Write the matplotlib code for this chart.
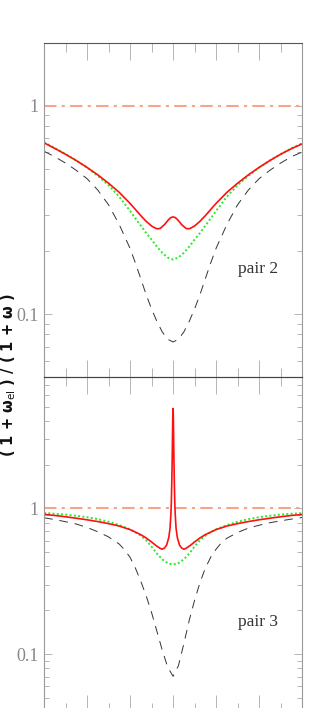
import numpy as np
import matplotlib
matplotlib.use('Agg')
import matplotlib.pyplot as plt
from matplotlib.ticker import FixedLocator, MultipleLocator, NullFormatter, FixedFormatter

# ---- data ----
# pair 2 (upper panel)
x2 = [-3.0, -2.75, -2.5, -2.25, -2.0, -1.75, -1.5, -1.25, -1.0, -0.875, -0.75, -0.625,
      -0.5, -0.375, -0.25, -0.125, 0.0, 0.125, 0.25, 0.375, 0.5, 0.625, 0.75, 0.875,
      1.0, 1.25, 1.5, 1.75, 2.0, 2.25, 2.5, 2.75, 3.0]
dashed2 = [0.605, 0.569, 0.531, 0.490, 0.447, 0.394, 0.335, 0.269, 0.207, 0.176, 0.148,
           0.124, 0.106, 0.0923, 0.0822, 0.0759, 0.0736, 0.0759, 0.0822, 0.0923, 0.106,
           0.124, 0.148, 0.176, 0.207, 0.269, 0.335, 0.394, 0.447, 0.490, 0.531, 0.569,
           0.600]
green2 = [0.668, 0.627, 0.586, 0.546, 0.505, 0.461, 0.416, 0.366, 0.313, 0.288, 0.266,
          0.245, 0.228, 0.211, 0.197, 0.187, 0.183, 0.187, 0.197, 0.211, 0.228, 0.245,
          0.266, 0.288, 0.313, 0.366, 0.416, 0.461, 0.505, 0.546, 0.586, 0.625, 0.660]
xr2 = [-3.0, -2.75, -2.5, -2.25, -2.0, -1.75, -1.5, -1.25, -1.0, -0.875, -0.75, -0.625,
       -0.5, -0.4, -0.35, -0.3, -0.2, -0.1, -0.05, 0.0, 0.05, 0.1, 0.2, 0.3, 0.35, 0.4,
       0.5, 0.625, 0.75, 0.875, 1.0, 1.25, 1.5, 1.75, 2.0, 2.25, 2.5, 2.75, 3.0]
red2 = [0.664, 0.624, 0.585, 0.546, 0.506, 0.466, 0.425, 0.384, 0.340, 0.318, 0.297,
        0.279, 0.265, 0.258, 0.257, 0.258, 0.269, 0.285, 0.291, 0.293, 0.291, 0.285,
        0.269, 0.258, 0.257, 0.258, 0.265, 0.279, 0.297, 0.318, 0.340, 0.384, 0.425,
        0.466, 0.506, 0.546, 0.585, 0.622, 0.656]

# pair 3 (lower panel)
xd3 = [-3.0, -2.75, -2.5, -2.25, -2.0, -1.75, -1.5, -1.25, -1.125, -1.0, -0.875, -0.75,
       -0.625, -0.5, -0.375, -0.25, -0.125, 0.0, 0.125, 0.25, 0.375, 0.5, 0.625, 0.75,
       0.875, 1.0, 1.125, 1.25, 1.5, 1.75, 2.0, 2.25, 2.5, 2.75, 3.0]
dashed3 = [0.863, 0.839, 0.811, 0.782, 0.741, 0.692, 0.638, 0.569, 0.519, 0.462, 0.389,
           0.316, 0.251, 0.193, 0.143, 0.106, 0.0813, 0.0703, 0.0832, 0.1175, 0.170,
           0.234, 0.309, 0.389, 0.462, 0.525, 0.582, 0.624, 0.684, 0.733, 0.767, 0.798,
           0.822, 0.845, 0.867]
xg3 = [-3.0, -2.75, -2.5, -2.25, -2.0, -1.75, -1.5, -1.25, -1.0, -0.875, -0.75, -0.625,
       -0.5, -0.375, -0.25, -0.125, 0.0, 0.125, 0.25, 0.375, 0.5, 0.625, 0.75, 0.875,
       1.0, 1.25, 1.5, 1.75, 2.0, 2.25, 2.5, 2.75, 3.0]
green3 = [0.931, 0.920, 0.908, 0.891, 0.871, 0.845, 0.811, 0.769, 0.719, 0.687, 0.650,
          0.605, 0.547, 0.490, 0.447, 0.421, 0.412, 0.421, 0.447, 0.490, 0.547, 0.605,
          0.650, 0.687, 0.719, 0.769, 0.811, 0.845, 0.871, 0.891, 0.908, 0.920, 0.928]
xr3 = [-3.0, -2.75, -2.5, -2.25, -2.0, -1.75, -1.5, -1.25, -1.0, -0.75, -0.625, -0.5,
       -0.4, -0.3, -0.25, -0.2, -0.15, -0.1, -0.07, -0.05, -0.04, -0.03, -0.02, -0.015,
       -0.01, -0.005, 0.0, 0.005, 0.01, 0.015, 0.02, 0.03, 0.04, 0.05, 0.07, 0.1, 0.15,
       0.2, 0.25, 0.3, 0.4, 0.5, 0.625, 0.75, 1.0, 1.25, 1.5, 1.75, 2.0, 2.25, 2.5, 2.75,
       3.0]
red3 = [0.912, 0.895, 0.877, 0.857, 0.836, 0.813, 0.787, 0.757, 0.716, 0.661, 0.627,
        0.589, 0.557, 0.532, 0.525, 0.535, 0.56, 0.63, 0.73, 0.92, 1.1, 1.5, 2.2, 2.82,
        3.63, 4.45, 4.86, 4.45, 3.63, 2.82, 2.2, 1.5, 1.1, 0.92, 0.73, 0.63, 0.56, 0.535,
        0.525, 0.532, 0.557, 0.589, 0.627, 0.661, 0.716, 0.757, 0.787, 0.813, 0.836,
        0.857, 0.877, 0.895, 0.910]

unity_x = [-3.0, 3.0]
unity = [1.0, 1.0]

panels = [
    dict(xd=x2, dashed=dashed2, xg=x2, green=green2, xr=xr2, red=red2, label='pair 2',
         ylim=(0.05, 2.0), lab_xy=(1.52, 0.164)),
    dict(xd=xd3, dashed=dashed3, xg=xg3, green=green3, xr=xr3, red=red3, label='pair 3',
         ylim=(0.04, 8.0), lab_xy=(1.52, 0.166)),
]
ytick_vals = [0.1, 1.0]
ytick_labels = ['0.1', '1']

tick_col = '#aaaaaa'

fig = plt.figure(figsize=(3.19, 7.08), dpi=100)
ax1 = fig.add_axes([0.138, 0.4675, 0.809, 0.4718])
ax2 = fig.add_axes([0.138, -0.0056, 0.809, 0.4731])

for ax, p in zip([ax1, ax2], panels):
    ax.plot(unity_x, unity, color='#f7a58a', lw=1.5, dashes=(6, 2.5, 1.5, 2.5))
    ax.plot(p['xd'], p['dashed'], color='#333333', lw=0.7, dashes=(9, 7))
    ax.plot(p['xg'], p['green'], color='#22ee22', lw=1.4, linestyle=(0, (1, 1.2)))
    ax.plot(p['xr'], p['red'], color='#ff1010', lw=1.2)
    ax.set_yscale('log')
    ax.set_xlim(-3, 3)
    ax.set_ylim(*p['ylim'])
    ax.xaxis.set_major_locator(MultipleLocator(1))
    ax.xaxis.set_minor_locator(MultipleLocator(0.5))
    ax.xaxis.set_major_formatter(NullFormatter())
    ax.yaxis.set_major_locator(FixedLocator(ytick_vals))
    ax.yaxis.set_major_formatter(FixedFormatter(ytick_labels))
    ax.yaxis.set_minor_locator(FixedLocator([k * 10.0 ** e for e in (-2, -1, 0)
                                             for k in range(2, 10)]))
    ax.yaxis.set_minor_formatter(NullFormatter())
    ax.tick_params(axis='x', which='major', direction='in', top=True, bottom=True,
                   length=12.5, width=0.6, color=tick_col)
    ax.tick_params(axis='x', which='minor', direction='in', top=True, bottom=True,
                   length=6.5, width=0.6, color=tick_col)
    ax.tick_params(axis='y', which='major', direction='in', left=True, right=True,
                   length=5.5, width=0.6, color=tick_col, pad=4, labelcolor='#888888',
                   labelsize=13)
    ax.tick_params(axis='y', which='minor', direction='in', left=True, right=True,
                   length=3.5, width=0.6, color=tick_col)
    for lab in ax.get_yticklabels():
        lab.set_fontfamily('Liberation Serif')
    for side in ['left', 'right']:
        ax.spines[side].set_color('#999999')
        ax.spines[side].set_linewidth(0.8)
    ax.text(p['lab_xy'][0], p['lab_xy'][1], p['label'], fontsize=12.5, color='#333333',
            va='center', ha='left', family='Liberation Serif')
    ax.patch.set_alpha(0)

ax1.spines['top'].set_color('#555555')
ax1.spines['bottom'].set_color('#444444')
ax2.spines['top'].set_color('#444444')
ax2.spines['bottom'].set_visible(False)

fig.text(0.028, 0.47, '( 1 + ω$_{\\rm el}$ ) / ( 1 + ω )', rotation=90,
         fontsize=10.5, fontweight='bold', ha='center', va='center', color='#111111')

fig.savefig('out.png', dpi=100)
